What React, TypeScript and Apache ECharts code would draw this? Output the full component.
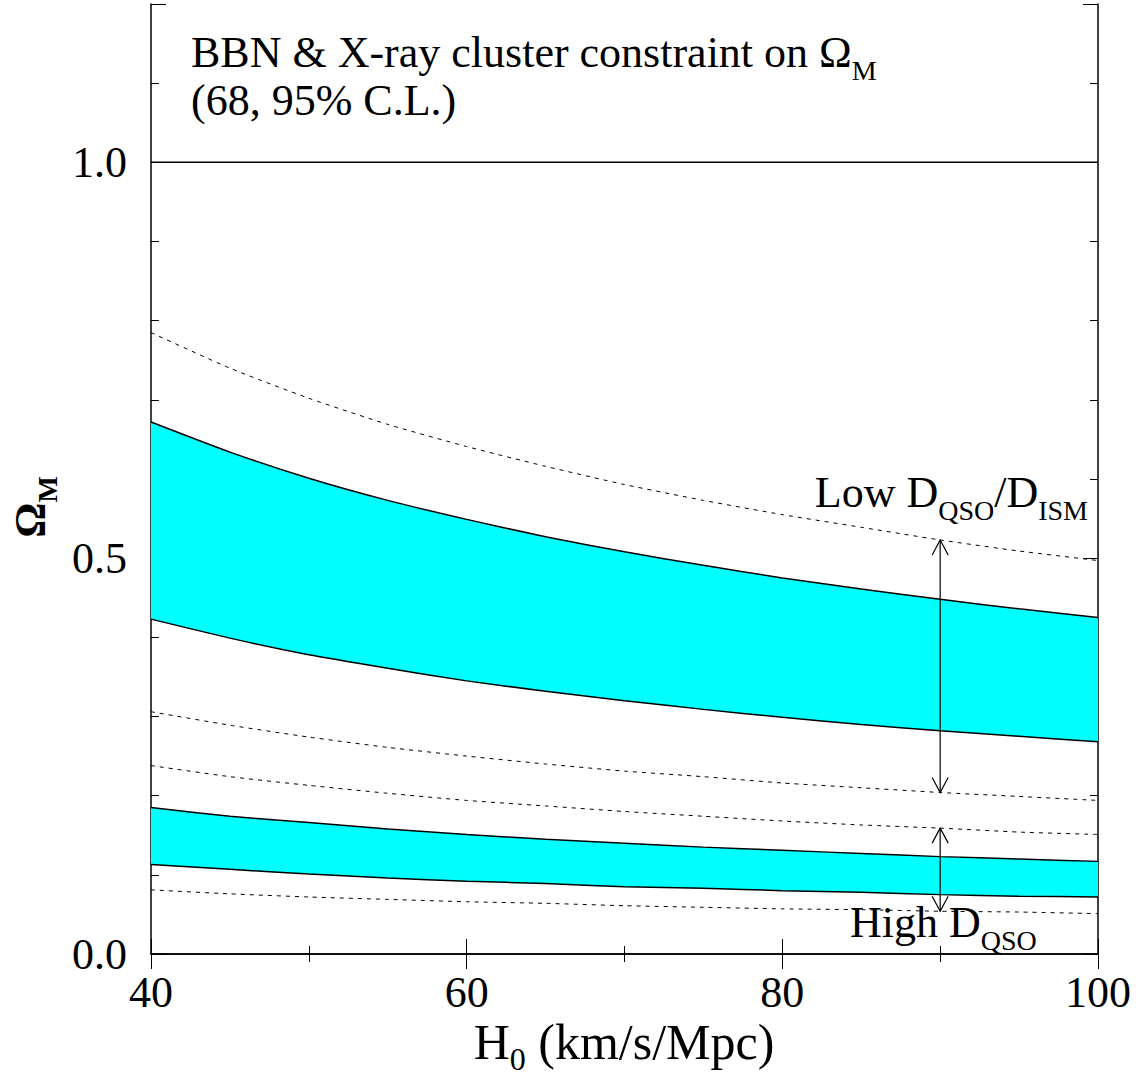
import React, { useEffect, useRef } from 'react';
import * as echarts from 'echarts';

// H0 sample points (km/s/Mpc)
const h0 = [40, 45, 50, 55, 60, 65, 70, 75, 80, 85, 90, 95, 100];
// Dashed 95% bound above the "Low D" band
const dashedTop = [0.785, 0.740, 0.702, 0.669, 0.641, 0.616, 0.593, 0.573, 0.555, 0.539, 0.523, 0.509, 0.497];
// Low D_QSO/D_ISM band (68%)
const lowBandUpper = [0.672, 0.634, 0.601, 0.573, 0.549, 0.527, 0.508, 0.491, 0.475, 0.461, 0.448, 0.436, 0.425];
const lowBandLower = [0.423, 0.399, 0.378, 0.361, 0.345, 0.332, 0.320, 0.309, 0.299, 0.290, 0.282, 0.275, 0.268];
// Dashed 95% bounds between the bands
const dashedMid1 = [0.306, 0.289, 0.274, 0.261, 0.250, 0.240, 0.231, 0.224, 0.216, 0.210, 0.204, 0.199, 0.194];
const dashedMid2 = [0.238, 0.224, 0.213, 0.203, 0.194, 0.187, 0.180, 0.174, 0.168, 0.163, 0.159, 0.154, 0.151];
// High D_QSO band (68%)
const highBandUpper = [0.185, 0.174, 0.166, 0.158, 0.151, 0.145, 0.140, 0.135, 0.131, 0.127, 0.123, 0.120, 0.117];
const highBandLower = [0.113, 0.107, 0.101, 0.096, 0.092, 0.089, 0.085, 0.083, 0.080, 0.078, 0.075, 0.073, 0.072];
// Dashed 95% bound below the "High D" band
const dashedBottom = [0.081, 0.076, 0.072, 0.069, 0.066, 0.064, 0.061, 0.059, 0.057, 0.056, 0.054, 0.053, 0.051];

const yLabelValues = [0, 0.5, 1.0];
const referenceLine = 1.0;
const arrowIndex = 10; // H0 = 90

const FONT = '"Liberation Serif", "Times New Roman", Times, serif';

let measureCtx: CanvasRenderingContext2D | null = null;
function measure(t: string, size: number, weight: string) {
  if (!measureCtx) measureCtx = document.createElement('canvas').getContext('2d');
  measureCtx!.font = `${weight} ${size}px ${FONT}`;
  return measureCtx!.measureText(t).width;
}

type Part = { t: string; sub?: boolean };
function richLine(
  parts: Part[], x: number, baseline: number, size: number, subSize: number, drop: number,
  align: 'left' | 'center' | 'right', weight = 'normal'
) {
  const widths = parts.map((p) => measure(p.t, p.sub ? subSize : size, weight));
  const total = widths.reduce((a, b) => a + b, 0);
  let cur = align === 'left' ? x : align === 'center' ? x - total / 2 : x - total;
  return parts.map((p, i) => {
    const sz = p.sub ? subSize : size;
    const el = {
      type: 'text',
      silent: true,
      x: cur,
      y: (p.sub ? baseline + drop : baseline) - 0.33 * sz,
      style: {
        text: p.t,
        font: `${weight} ${sz}px ${FONT}`,
        fill: '#000',
        align: 'left',
        verticalAlign: 'middle',
      },
    };
    cur += widths[i];
    return el;
  });
}

const pairs = (arr: number[]) => h0.map((x, i) => [x, arr[i]]);

function bandSeries(upper: number[], lower: number[]) {
  return {
    type: 'custom',
    z: 2,
    silent: true,
    data: [[h0[0], upper[0]]],
    renderItem: (_p: any, api: any) => {
      const pts = [
        ...upper.map((v, i) => api.coord([h0[i], v])),
        ...lower.map((v, i) => api.coord([h0[i], v])).reverse(),
      ];
      return { type: 'polygon', shape: { points: pts }, style: { fill: '#00ffff', stroke: null } };
    },
  };
}

function lineSeries(arr: number[], dashed: boolean) {
  return {
    type: 'line',
    z: 3,
    silent: true,
    data: pairs(arr),
    showSymbol: false,
    smooth: 0.2,
    lineStyle: dashed
      ? { color: '#000', width: 1, type: [4, 5] }
      : { color: '#000', width: 1.5 },
  };
}

export default function App() {
  const ref = useRef<HTMLDivElement>(null);
  useEffect(() => {
    if (!ref.current) return;
    const chart = echarts.init(ref.current, undefined, { renderer: 'svg' });

    const axisLineStyle = { show: true, lineStyle: { color: '#000', width: 1.5 } };
    const yBase = { type: 'value', min: 0, max: 1.2, splitLine: { show: false } };

    const graphic: any[] = [
      ...richLine([{ t: 'BBN & X-ray cluster constraint on Ω' }, { t: 'M', sub: true }], 191, 67, 44, 28, 13, 'left'),
      ...richLine([{ t: '(68, 95% C.L.)' }], 191, 115, 44, 28, 13, 'left'),
      ...richLine(
        [{ t: 'Low D' }, { t: 'QSO', sub: true }, { t: '/D' }, { t: 'ISM', sub: true }],
        1088, 507, 44, 28, 13, 'right'
      ),
      ...richLine([{ t: 'High D' }, { t: 'QSO', sub: true }], 850, 937, 44, 28, 13, 'left'),
      ...richLine([{ t: 'H' }, { t: '0', sub: true }, { t: ' (km/s/Mpc)' }], 624, 1058, 50, 32, 12, 'center'),
      {
        type: 'group',
        x: 45,
        y: 507,
        rotation: Math.PI / 2,
        children: richLine([{ t: 'Ω' }, { t: 'M', sub: true }], 0, 0, 44, 28, 12, 'center', 'bold'),
      },
    ];

    chart.setOption({
      animation: false,
      grid: { left: 151, right: 39, top: 4, bottom: 128, containLabel: false },
      xAxis: [
        {
          type: 'value', position: 'bottom', min: 40, max: 100, interval: 20,
          axisLine: axisLineStyle,
          axisTick: { show: true, inside: true, length: 15, lineStyle: { color: '#000', width: 1 } },
          minorTick: { show: true, splitNumber: 2, length: 8, lineStyle: { color: '#000', width: 1 } },
          axisLabel: { fontSize: 44, fontFamily: FONT, color: '#000', margin: 16 },
          splitLine: { show: false },
        },
        {
          type: 'value', position: 'top', min: 40, max: 100, interval: 20,
          axisLine: axisLineStyle,
          axisTick: { show: true, inside: true, length: 15, lineStyle: { color: '#000', width: 1 } },
          minorTick: { show: true, splitNumber: 2, length: 8, lineStyle: { color: '#000', width: 1 } },
          axisLabel: { show: false },
          splitLine: { show: false },
        },
      ],
      yAxis: [
        {
          ...yBase, position: 'left', interval: 0.5,
          axisLine: axisLineStyle,
          axisTick: { show: true, inside: true, length: 15, lineStyle: { color: '#000', width: 1 } },
          axisLabel: {
            fontSize: 44, fontFamily: FONT, color: '#000', margin: 24,
            formatter: (v: number) =>
              yLabelValues.some((l) => Math.abs(l - v) < 1e-6) ? v.toFixed(1) : '',
          },
        },
        {
          ...yBase, position: 'left', interval: 0.1,
          axisLine: { show: false },
          axisTick: { show: true, inside: true, length: 8, lineStyle: { color: '#000', width: 1 } },
          axisLabel: { show: false },
        },
        {
          ...yBase, position: 'right', interval: 0.5,
          axisLine: axisLineStyle,
          axisTick: { show: true, inside: true, length: 15, lineStyle: { color: '#000', width: 1 } },
          axisLabel: { show: false },
        },
        {
          ...yBase, position: 'right', interval: 0.1,
          axisLine: { show: false },
          axisTick: { show: true, inside: true, length: 8, lineStyle: { color: '#000', width: 1 } },
          axisLabel: { show: false },
        },
      ],
      series: [
        bandSeries(lowBandUpper, lowBandLower),
        bandSeries(highBandUpper, highBandLower),
        lineSeries(dashedTop, true),
        lineSeries(lowBandUpper, false),
        lineSeries(lowBandLower, false),
        lineSeries(dashedMid1, true),
        lineSeries(dashedMid2, true),
        lineSeries(highBandUpper, false),
        lineSeries(highBandLower, false),
        lineSeries(dashedBottom, true),
        {
          type: 'line', z: 3, silent: true, showSymbol: false,
          data: [[h0[0], referenceLine], [h0[h0.length - 1], referenceLine]],
          lineStyle: { color: '#000', width: 1.5 },
        },
        {
          type: 'custom',
          z: 4,
          silent: true,
          clip: false,
          encode: { x: 0, y: [1, 2] },
          data: [
            [h0[arrowIndex], dashedMid1[arrowIndex], dashedTop[arrowIndex]],
            [h0[arrowIndex], dashedBottom[arrowIndex], dashedMid2[arrowIndex]],
          ],
          renderItem: (_p: any, api: any) => {
            const x = api.value(0);
            const a = api.coord([x, api.value(1)]);
            const b = api.coord([x, api.value(2)]);
            const hw = 8, hl = 15;
            const st = { stroke: '#000', lineWidth: 1.2, fill: null };
            return {
              type: 'group',
              children: [
                { type: 'line', shape: { x1: a[0], y1: a[1], x2: b[0], y2: b[1] }, style: st },
                { type: 'polyline', shape: { points: [[b[0] - hw, b[1] + hl], [b[0], b[1]], [b[0] + hw, b[1] + hl]] }, style: st },
                { type: 'polyline', shape: { points: [[a[0] - hw, a[1] - hl], [a[0], a[1]], [a[0] + hw, a[1] - hl]] }, style: st },
              ],
            };
          },
        },
      ],
      graphic,
    });
    return () => chart.dispose();
  }, []);

  return (
    <div
      ref={ref}
      style={{ position: 'absolute', left: 0, top: 0, width: 1137, height: 1082, background: '#fff' }}
    />
  );
}
